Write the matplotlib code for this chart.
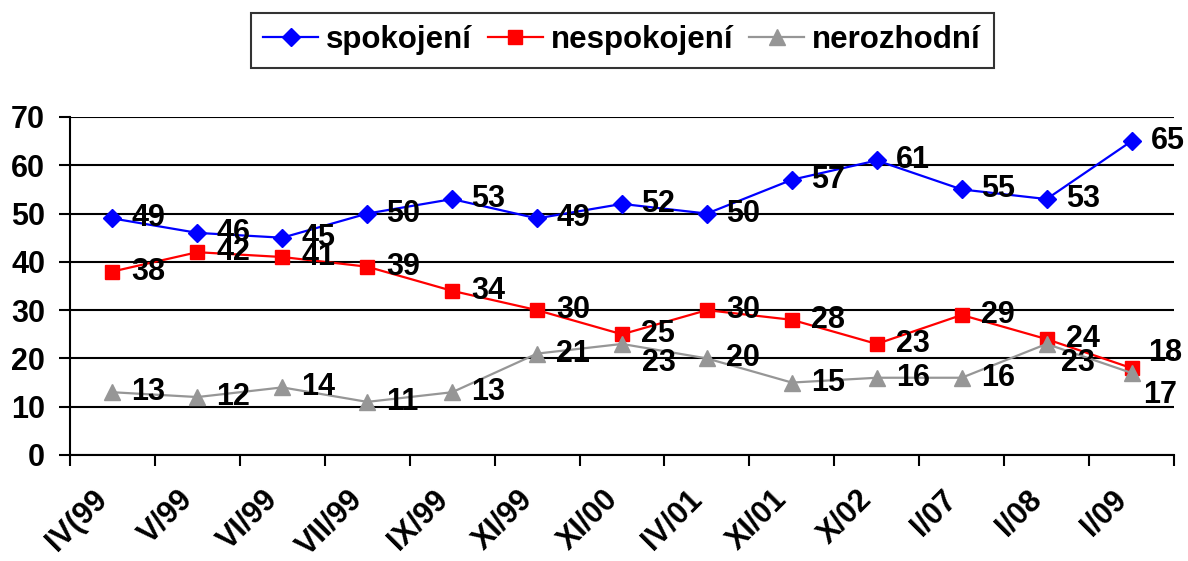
import matplotlib
matplotlib.use("Agg")
import matplotlib.pyplot as plt
from matplotlib.transforms import ScaledTranslation
import numpy as np

plt.rcParams['font.family'] = ['Liberation Sans', 'DejaVu Sans']
plt.rcParams['font.weight'] = 'bold'

categories = ["IV(99", "V/99", "VI/99", "VII/99", "IX/99", "XI/99", "XI/00",
              "IV/01", "XI/01", "X/02", "I/07", "I/08", "I/09"]
spokojeni = [49, 46, 45, 50, 53, 49, 52, 50, 57, 61, 55, 53, 65]
nespokojeni = [38, 42, 41, 39, 34, 30, 25, 30, 28, 23, 29, 24, 18]
nerozhodni = [13, 12, 14, 11, 13, 21, 23, 20, 15, 16, 16, 23, 17]
y_ticks = [0, 10, 20, 30, 40, 50, 60, 70]

W, H = 1188, 561
fig = plt.figure(figsize=(W / 100, H / 100), dpi=100)
ax = fig.add_axes([70 / W, 1 - 455 / H, (1174 - 70) / W, (455 - 117) / H])

x = np.arange(len(categories))
series = [
    ("spokojení", spokojeni, "#0000FF", "D", 9),
    ("nespokojení", nespokojeni, "#FF0000", "s", 10),
    ("nerozhodní", nerozhodni, "#969696", "^", 11),
]

# label offsets in pixels (default: right of the point)
special = {
    ("nerozhodní", 6): (20, -19),
    ("nerozhodní", 11): (14, -19),
    ("nerozhodní", 12): (12, -22),
    ("nespokojení", 12): (17, 15),
}

for name, vals, col, mk, ms in series:
    ax.plot(x, vals, color=col, marker=mk, markersize=ms, lw=1.6,
            label=name, zorder=3, clip_on=False)
for name, vals, col, mk, ms in series:
    for i, v in enumerate(vals):
        dx, dy = special.get((name, i), (19, 0))
        ax.annotate(str(v), (x[i], v), xytext=(dx, dy), textcoords='offset pixels',
                    ha='left', va='center', fontsize=22, fontweight='bold',
                    color='black', zorder=4, annotation_clip=False)

ax.set_xlim(-0.5, len(categories) - 0.5)
ax.set_ylim(0, 70)
ax.set_yticks(y_ticks)
ax.set_yticklabels([str(t) for t in y_ticks], fontsize=22, fontweight='bold')
ax.yaxis.grid(True, color='black', lw=1.5, zorder=1)
ax.set_axisbelow(True)

ax.set_xticks(x)
ax.set_xticklabels(categories, fontsize=22, fontweight='bold', rotation=45,
                   ha='right', va='top', rotation_mode='anchor')
ax.set_xticks(np.arange(-0.5, len(categories)), minor=True)
ax.tick_params(axis='x', which='major', length=0, pad=21)
ax.tick_params(axis='x', which='minor', length=8, width=1.5, color='black', direction='out')
ax.tick_params(axis='y', which='major', length=8, width=1.5, color='black', pad=10)

shift = ScaledTranslation(-20 / 100, 0, fig.dpi_scale_trans)
for lab in ax.get_xticklabels():
    lab.set_transform(lab.get_transform() + shift)

for s in ['top', 'right']:
    ax.spines[s].set_visible(False)
for s in ['left', 'bottom']:
    ax.spines[s].set_linewidth(1.5)
    ax.spines[s].set_color('black')

leg = fig.legend(loc='center', bbox_to_anchor=(622 / W, 1 - 40 / H), ncol=3,
                 prop={'size': 22.5, 'weight': 'bold'}, frameon=True, fancybox=False,
                 edgecolor='black', handlelength=1.76, handletextpad=0.26,
                 columnspacing=0.5, borderpad=0.4, borderaxespad=0)
leg.get_frame().set_linewidth(1.5)

fig.savefig("out.png", dpi=100)
